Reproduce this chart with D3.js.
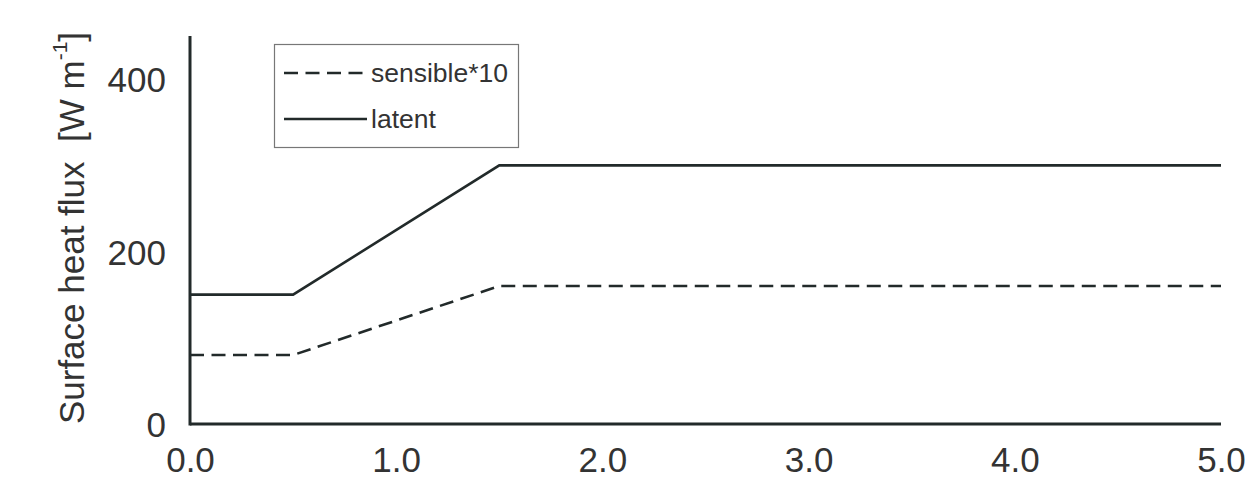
<!DOCTYPE html>
<html>
<head>
<meta charset="utf-8">
<script src="https://cdn.jsdelivr.net/npm/d3@7"></script>
<style>
  html, body { margin: 0; padding: 0; background: #fff; }
  svg { display: block; font-family: "Liberation Sans", Arial, Helvetica, sans-serif; }
</style>
</head>
<body>
<svg id="chart" width="1246" height="480"></svg>
<script>
// Time axis breakpoints and flux values
const timePoints = [0.0, 0.5, 1.5, 5.0];
const latentFlux = [150, 150, 300, 300];
const sensibleFlux10 = [80, 80, 160, 160];

const xTicks = [0, 1, 2, 3, 4, 5];
const xTickLabels = ["0.0", "1.0", "2.0", "3.0", "4.0", "5.0"];
const yTicks = [0, 200, 400];
const yTickLabels = ["0", "200", "400"];

const seriesNames = ["sensible*10", "latent"];

const svg = d3.select("#chart");
const ink = "#222a2a";

const x = d3.scaleLinear().domain([0, 5]).range([190, 1221]);
const y = d3.scaleLinear().domain([0, 450]).range([424, 36]);

// Axes: plain spines without tick marks
const xAxis = d3.axisBottom(x).tickValues(xTicks)
  .tickFormat((d, i) => xTickLabels[i]).tickSize(0).tickPadding(26);
const yAxis = d3.axisLeft(y).tickValues(yTicks)
  .tickFormat((d, i) => yTickLabels[i]).tickSize(0).tickPadding(24);

const gx = svg.append("g").attr("transform", `translate(0,${y(0)})`).call(xAxis);
const gy = svg.append("g").attr("transform", `translate(${x(0)},0)`).call(yAxis);

[gx, gy].forEach(g => {
  g.select(".domain").attr("stroke", ink).attr("stroke-width", 3);
  g.selectAll("text").attr("fill", "#333").attr("font-size", 35);
});
gx.selectAll("text").attr("dy", "0.62em");
gy.selectAll("text").attr("dy", "0.36em");
gx.select(".domain").attr("d", `M${x(0)},0H${x(5)}`);
gy.select(".domain").attr("d", `M0,${y(0) + 1.5}V${y(450)}`);

// Series lines
const line = d3.line()
  .x((d, i) => x(timePoints[i]))
  .y(d => y(d));

svg.append("path")
  .datum(latentFlux)
  .attr("d", line)
  .attr("fill", "none")
  .attr("stroke", ink)
  .attr("stroke-width", 2.6);

svg.append("path")
  .datum(sensibleFlux10)
  .attr("d", line)
  .attr("fill", "none")
  .attr("stroke", ink)
  .attr("stroke-width", 2.6)
  .attr("stroke-dasharray", "14,7.5");

// Y axis title
const yTitle = svg.append("text")
  .attr("transform", "translate(84,228) rotate(-90)")
  .attr("text-anchor", "middle")
  .attr("fill", "#333")
  .attr("font-size", 35)
  .style("white-space", "pre");
yTitle.append("tspan").text("Surface heat flux  [W m");
yTitle.append("tspan").attr("font-size", 21).attr("dy", "-0.8em").text("-1");
yTitle.append("tspan").attr("dy", "0.48em").text("]");

// Legend
const legend = svg.append("g");
legend.append("rect")
  .attr("x", 274.5).attr("y", 44.5)
  .attr("width", 244).attr("height", 103)
  .attr("fill", "#fff")
  .attr("stroke", "#777")
  .attr("stroke-width", 1.2);

const legendRows = [
  { name: seriesNames[0], dash: "14,7.5", yy: 73 },
  { name: seriesNames[1], dash: null, yy: 119 }
];
legendRows.forEach(r => {
  legend.append("line")
    .attr("x1", 284).attr("x2", 367)
    .attr("y1", r.yy).attr("y2", r.yy)
    .attr("stroke", ink).attr("stroke-width", 2.6)
    .attr("stroke-dasharray", r.dash);
  legend.append("text")
    .attr("x", 371).attr("y", r.yy)
    .attr("dy", "0.35em")
    .attr("fill", "#333")
    .attr("font-size", 26.5)
    .text(r.name);
});
</script>
</body>
</html>
